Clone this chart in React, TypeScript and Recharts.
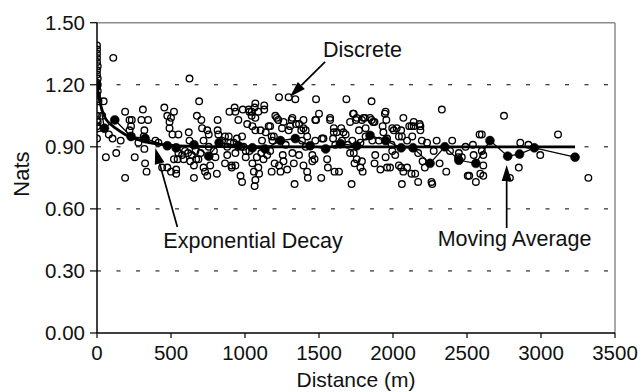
import {
  CartesianGrid,
  ComposedChart,
  Line,
  ReferenceLine,
  Scatter,
  XAxis,
  YAxis,
} from "recharts";

const FONT = '"Liberation Sans", Arial, Helvetica, sans-serif';

const distanceTicks = [0, 500, 1000, 1500, 2000, 2500, 3000, 3500];
const natsTicks = [0, 0.3, 0.6, 0.9, 1.2, 1.5];

// [distance (m), nats]
const discrete: Array<[number, number]> = [
  [0, 1.39], [0, 1.37], [0, 1.35], [0, 1.33], [0, 1.31], [5, 1.29], [0, 1.27],
  [0, 1.25], [5, 1.23], [0, 1.21], [0, 1.19], [5, 1.17], [0, 1.15], [5, 1.13],
  [10, 1.12], [0, 1.05], [0, 1.03], [5, 1.02], [0, 1.0], [10, 0.99], [0, 0.94],
  [45, 1.12], [35, 1.05], [80, 0.96], [105, 0.94], [60, 0.85], [110, 1.33],
  [130, 0.87], [160, 0.93], [190, 1.07], [220, 1.03], [235, 1.03], [230, 1.0],
  [220, 0.98], [190, 0.75], [255, 0.85], [280, 0.92], [310, 1.08], [300, 1.03],
  [345, 1.03], [320, 0.98], [315, 0.95], [320, 0.89], [325, 0.82], [335, 0.78],
  [395, 0.93], [415, 0.92], [455, 1.09], [475, 1.05], [500, 1.04], [520, 1.07],
  [490, 1.02], [490, 0.99], [510, 0.96], [550, 0.96], [440, 0.8], [475, 0.8],
  [500, 0.78], [535, 0.79], [535, 0.77], [520, 0.84], [545, 0.84], [575, 0.86],
  [585, 0.84], [550, 0.87], [595, 0.88], [620, 0.97], [625, 0.93], [640, 0.86],
  [630, 0.83], [655, 0.81], [670, 0.84], [685, 0.84], [700, 0.87], [720, 0.8],
  [730, 0.78], [745, 0.76], [765, 0.81], [810, 0.77], [625, 1.23], [690, 1.12],
  [675, 1.05], [705, 1.03], [710, 0.99], [745, 0.98], [755, 0.96], [815, 1.03],
  [815, 0.98], [820, 0.96], [655, 0.75], [615, 0.87], [800, 0.85], [790, 0.88],
  [665, 0.88], [720, 0.93], [755, 0.9],
  [1230, 1.14], [1295, 1.14], [1340, 1.13], [1480, 1.13], [1685, 1.13],
  [1070, 1.11], [1065, 1.09], [930, 1.09], [895, 1.07], [935, 1.07], [955, 1.03],
  [985, 1.08], [1025, 1.08], [1045, 1.05], [1070, 1.04], [1015, 1.01], [1050, 1.0],
  [1070, 0.98], [1105, 0.98], [1140, 0.97], [1160, 1.0], [1205, 1.05], [1215, 1.04],
  [1225, 1.03], [1260, 1.02], [1250, 0.99], [1315, 1.03], [1320, 1.04], [1305, 1.0],
  [1295, 0.98], [1345, 1.01], [1365, 1.01], [1380, 0.98], [1410, 0.98], [1420, 0.95],
  [1500, 1.06], [1480, 1.03], [1575, 1.03], [1520, 0.94], [1530, 0.94], [1600, 0.97],
  [1595, 0.94], [1650, 0.99], [1680, 0.96], [1710, 1.02], [890, 0.95], [925, 0.92],
  [865, 0.95], [880, 0.86], [865, 0.82], [910, 0.81], [935, 0.81], [910, 0.8],
  [970, 0.76], [980, 0.73], [1005, 0.85], [1005, 0.88], [1030, 0.88], [1050, 0.82],
  [1060, 0.78], [1070, 0.74], [1065, 0.71], [1090, 0.8], [1095, 0.77], [1080, 0.85],
  [1110, 0.87], [1125, 0.84], [1150, 0.86], [1180, 0.78], [1200, 0.82], [1230, 0.81],
  [1240, 0.78], [1255, 0.86], [1260, 0.83], [1285, 0.79], [1320, 0.87], [1330, 0.82],
  [1335, 0.72], [1365, 0.86], [1395, 0.81], [1420, 0.78], [1425, 0.75], [1455, 0.86],
  [1455, 0.83], [1470, 0.84], [1515, 0.75], [1555, 0.84], [1560, 0.8], [1605, 0.78],
  [1635, 0.78], [1710, 0.87], [1720, 0.72], [935, 0.87], [975, 0.9], [990, 0.9],
  [1170, 0.88], [845, 0.93], [900, 0.92], [945, 0.94], [980, 0.95], [1115, 0.93],
  [1185, 0.93], [1195, 0.95], [1275, 0.91], [1385, 0.93], [1410, 0.9], [1475, 0.93],
  [1610, 0.91], [1655, 0.93], [1695, 0.91], [880, 0.9], [1030, 1.07], [1045, 1.07],
  [1090, 1.07], [1130, 1.1], [1130, 1.08], [1170, 1.0], [1180, 0.95], [1395, 1.03],
  [1395, 0.99], [1475, 1.03], [1575, 1.04], [1600, 0.99], [1620, 0.97], [1665, 0.97],
  [1855, 1.12], [2330, 1.08], [1735, 1.06], [1750, 1.03], [1790, 1.03], [1810, 1.04],
  [1845, 1.04], [1865, 1.02], [1875, 1.02], [1950, 1.07], [1955, 1.03], [1930, 1.0],
  [1995, 0.99], [2005, 0.98], [2070, 1.04], [2055, 0.98], [2060, 0.95], [2040, 0.95],
  [2110, 1.0], [2140, 1.0], [2185, 1.0], [2185, 0.98], [2130, 0.95], [2195, 0.93],
  [1770, 0.98], [1815, 0.99], [1815, 0.95], [1935, 0.97], [1960, 0.94], [2585, 0.96],
  [2540, 0.91], [1730, 1.06], [1755, 1.04], [1800, 1.04], [1855, 1.03], [1945, 1.06],
  [2025, 0.99], [2125, 1.0], [2140, 1.02], [2180, 1.01],
  [1735, 0.87], [1755, 0.84], [1740, 0.82], [1790, 0.83], [1795, 0.78], [1780, 0.8],
  [1880, 0.86], [1875, 0.82], [1915, 0.79], [1950, 0.85], [1960, 0.8], [1980, 0.8],
  [2040, 0.81], [2055, 0.8], [2070, 0.78], [2060, 0.72], [2095, 0.8], [2125, 0.77],
  [2150, 0.77], [2170, 0.73], [2200, 0.83], [2215, 0.8], [2260, 0.73], [2265, 0.72],
  [2315, 0.82], [2360, 0.78], [2385, 0.88], [2445, 0.87], [2440, 0.85], [2505, 0.76],
  [2515, 0.76], [2560, 0.73], [2590, 0.77], [1995, 0.88], [2015, 0.86], [2275, 0.88],
  [1725, 0.93], [1780, 0.92], [1860, 0.93], [1905, 0.93], [1990, 0.91], [2095, 0.93],
  [2170, 0.87], [2230, 0.92], [2295, 0.93], [2400, 0.93], [2465, 0.85], [2490, 0.9],
  [2545, 0.86],
  [2750, 1.05], [3115, 0.96], [2600, 0.96], [2610, 0.86], [2610, 0.81], [2610, 0.76],
  [2860, 0.92], [2915, 0.91], [2995, 0.86], [2850, 0.8], [2790, 0.75], [3320, 0.75],
  [2600, 0.88],
];

const movingAverage: Array<[number, number]> = [
  [0, 1.2], [50, 0.99], [120, 1.03], [230, 0.95], [325, 0.94], [475, 0.905],
  [535, 0.895], [655, 0.91], [755, 0.855], [825, 0.92], [955, 0.905], [1050, 0.895],
  [1135, 0.89], [1240, 0.93], [1340, 0.94], [1440, 0.905], [1545, 0.89], [1645, 0.915],
  [1755, 0.905], [1845, 0.955], [1950, 0.93], [2055, 0.895], [2135, 0.895],
  [2250, 0.82], [2350, 0.9], [2445, 0.835], [2560, 0.82], [2655, 0.93], [2775, 0.855],
  [2855, 0.865], [2955, 0.895], [3230, 0.85],
];

const exponentialDecay: Array<[number, number]> = [
  [0, 1.2], [10, 1.15], [25, 1.1], [55, 1.04], [90, 1.01], [125, 0.99], [190, 0.96],
  [300, 0.93], [415, 0.913], [550, 0.905], [800, 0.901], [1500, 0.9], [3230, 0.9],
];

// arrow: text end -> tip, in data units
const notes = [
  { text: "Discrete", from: [1541, 1.311], to: [1304, 1.142], dx: -2, dy: -5 },
  { text: "Exponential Decay", from: [543, 0.512], to: [394, 0.894], dx: -14, dy: 21 },
  { text: "Moving Average", from: [2768, 0.507], to: [2768, 0.812], dx: -69, dy: 18 },
];

const toPoints = (rows: Array<[number, number]>) =>
  rows.map(([d, v]) => ({ d, v }));

function Arrow(props: any) {
  const { x1, y1, x2, y2, text, dx, dy } = props;
  const ang = Math.atan2(y2 - y1, x2 - x1);
  const len = 16;
  const half = 5;
  const bx = x2 - len * Math.cos(ang);
  const by = y2 - len * Math.sin(ang);
  const px = -Math.sin(ang) * half;
  const py = Math.cos(ang) * half;
  return (
    <g>
      <line x1={x1} y1={y1} x2={bx} y2={by} stroke="#000" strokeWidth={1.7} />
      <polygon
        points={`${x2},${y2} ${bx + px},${by + py} ${bx - px},${by - py}`}
        fill="#000"
      />
      <text
        x={x1 + dx}
        y={y1 + dy}
        fontSize={21.5}
        fontFamily={FONT}
        fill="#111"
      >
        {text}
      </text>
    </g>
  );
}

const OpenCircle = (p: any) => (
  <circle cx={p.cx} cy={p.cy} r={3.3} fill="none" stroke="#000" strokeWidth={1.35} />
);

export default function App() {
  const tick = { fontSize: 20.5, fill: "#111", fontFamily: FONT };
  return (
    <div style={{ position: "relative", width: 640, height: 392, background: "#fff" }}>
      <style>{`body{margin:0}`}</style>
      <ComposedChart
        width={640}
        height={392}
        margin={{ top: 22.7, right: 25, bottom: 0, left: 0 }}
      >
        <CartesianGrid
          horizontalValues={[0.3, 0.6, 0.9, 1.2]}
          vertical={false}
          stroke="#000"
          strokeWidth={1}
          strokeDasharray="4 15.5"
        />
        <XAxis
          type="number"
          dataKey="d"
          domain={[0, 3500]}
          ticks={distanceTicks}
          allowDataOverflow
          height={59}
          tick={tick}
          tickSize={5}
          tickMargin={7}
          axisLine={{ stroke: "#000", strokeWidth: 1.5 }}
          tickLine={{ stroke: "#000", strokeWidth: 1.2 }}
        />
        <YAxis
          type="number"
          dataKey="v"
          domain={[0, 1.5]}
          ticks={natsTicks}
          allowDataOverflow
          width={97}
          tick={tick}
          tickSize={7}
          tickMargin={5}
          tickFormatter={(v: number) => v.toFixed(2)}
          axisLine={{ stroke: "#000", strokeWidth: 1.5 }}
          tickLine={{ stroke: "#000", strokeWidth: 1.2 }}
        />
        <ReferenceLine y={1.5} stroke="#8c8c8c" strokeWidth={1.5} />
        <ReferenceLine x={3500} stroke="#8c8c8c" strokeWidth={1.5} />
        <Scatter
          name="Discrete"
          data={toPoints(discrete)}
          dataKey="v"
          shape={OpenCircle}
          isAnimationActive={false}
        />
        <Line
          name="Exponential Decay"
          data={toPoints(exponentialDecay)}
          dataKey="v"
          type="monotone"
          stroke="#000"
          strokeWidth={2.8}
          dot={false}
          isAnimationActive={false}
        />
        <Line
          name="Moving Average"
          data={toPoints(movingAverage)}
          dataKey="v"
          type="linear"
          stroke="#000"
          strokeWidth={1.3}
          dot={{ r: 4.5, fill: "#000", stroke: "#000", strokeWidth: 0.5 }}
          isAnimationActive={false}
        />
        {notes.map((n) => (
          <ReferenceLine
            key={n.text}
            segment={[
              { x: n.from[0], y: n.from[1] },
              { x: n.to[0], y: n.to[1] },
            ]}
            shape={(p: any) => <Arrow {...p} text={n.text} dx={n.dx} dy={n.dy} />}
          />
        ))}
      </ComposedChart>
      <svg
        width={640}
        height={392}
        style={{ position: "absolute", left: 0, top: 0, pointerEvents: "none" }}
      >
        <text
          x={356}
          y={387}
          textAnchor="middle"
          fontSize={21}
          fontFamily={FONT}
          fill="#111"
        >
          Distance (m)
        </text>
        <text
          x={21}
          y={174}
          dy="0.36em"
          textAnchor="middle"
          transform="rotate(-90 21 174)"
          fontSize={22}
          fontFamily={FONT}
          fill="#111"
        >
          Nats
        </text>
      </svg>
    </div>
  );
}
